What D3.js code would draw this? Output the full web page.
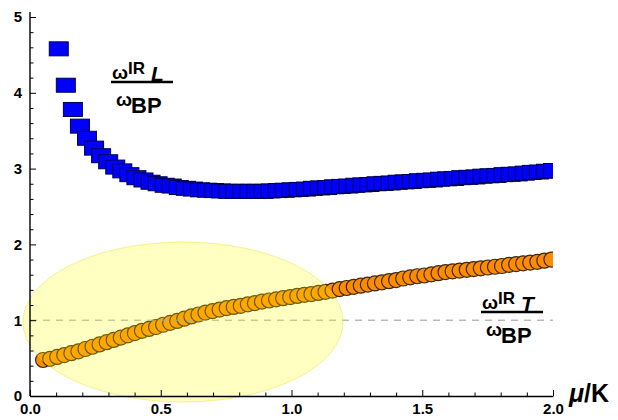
<!DOCTYPE html>
<html>
<head>
<meta charset="utf-8">
<script src="https://cdn.jsdelivr.net/npm/d3@7"></script>
<style>
html,body{margin:0;padding:0;background:#fff;}
svg{display:block;}
text{font-family:"Liberation Sans",Arial,sans-serif;font-weight:bold;fill:#000;}
</style>
</head>
<body>
<svg id="chart" width="618" height="420"></svg>
<script>
// ---- data ----
const xBlue = [0.11,0.137,0.164,0.191,0.218,0.245,0.272,0.299,0.326,0.353,0.38,0.407,0.434,0.461,0.488,0.515,0.542,0.569,0.596,0.623,0.65,0.677,0.704,0.731,0.758,0.785,0.812,0.839,0.866,0.893,0.92,0.947,0.974,1.001,1.028,1.055,1.082,1.109,1.136,1.163,1.19,1.217,1.244,1.271,1.298,1.325,1.352,1.379,1.406,1.433,1.46,1.487,1.514,1.541,1.568,1.595,1.622,1.649,1.676,1.703,1.73,1.757,1.784,1.811,1.838,1.865,1.892,1.919,1.946,1.973,2.0];
const yBlue = [4.58,4.10,3.78,3.56,3.40,3.27,3.17,3.09,3.02,2.97,2.92,2.88,2.85,2.82,2.80,2.78,2.77,2.75,2.74,2.73,2.72,2.715,2.71,2.705,2.70,2.70,2.70,2.70,2.70,2.70,2.705,2.71,2.715,2.72,2.725,2.73,2.74,2.745,2.75,2.76,2.765,2.77,2.78,2.785,2.79,2.80,2.805,2.81,2.82,2.825,2.83,2.84,2.845,2.85,2.86,2.865,2.87,2.88,2.885,2.89,2.90,2.905,2.91,2.92,2.925,2.93,2.94,2.95,2.955,2.965,2.975];
const xOrange = [0.05,0.077,0.104,0.131,0.158,0.185,0.212,0.239,0.266,0.293,0.32,0.347,0.374,0.401,0.428,0.455,0.482,0.509,0.536,0.563,0.59,0.617,0.644,0.671,0.698,0.725,0.752,0.779,0.806,0.833,0.86,0.887,0.914,0.941,0.968,0.995,1.022,1.049,1.076,1.103,1.13,1.157,1.184,1.211,1.238,1.265,1.292,1.319,1.346,1.373,1.4,1.427,1.454,1.481,1.508,1.535,1.562,1.589,1.616,1.643,1.67,1.697,1.724,1.751,1.778,1.805,1.832,1.859,1.886,1.913,1.94,1.967,1.994];
const yOrange = [0.475,0.49,0.515,0.54,0.565,0.59,0.62,0.65,0.68,0.71,0.74,0.77,0.80,0.83,0.86,0.885,0.91,0.94,0.965,0.99,1.02,1.05,1.075,1.10,1.12,1.14,1.16,1.175,1.19,1.21,1.225,1.245,1.26,1.275,1.29,1.305,1.32,1.335,1.345,1.36,1.375,1.39,1.41,1.425,1.44,1.455,1.47,1.485,1.50,1.515,1.53,1.55,1.565,1.58,1.59,1.605,1.62,1.635,1.645,1.655,1.665,1.675,1.685,1.695,1.705,1.715,1.73,1.74,1.75,1.76,1.77,1.785,1.80];
const xMajorTicks = [0,0.5,1,1.5,2];
const xTickLabels = ["0.0","0.5","1.0","1.5","2.0"];
const yMajorTicks = [0,1,2,3,4,5];
const yTickLabels = ["0","1","2","3","4","5"];
const refLevel = 1;
const highlight = {cx:0.585, cy:0.976, rx:0.612, ry:1.055};

// ---- scales ----
const W = 618, H = 420;
const x = d3.scaleLinear().domain([0,2]).range([30,553]);
const y = d3.scaleLinear().domain([0,5]).range([396,17]);
const svg = d3.select("#chart");

svg.append("defs").append("clipPath").attr("id","plotclip")
  .append("rect").attr("x",0).attr("y",0).attr("width",x(2)).attr("height",H);

const plot = svg.append("g").attr("clip-path","url(#plotclip)");

// dashed reference line
svg.append("line")
  .attr("x1",x(0)).attr("x2",x(2)).attr("y1",y(refLevel)).attr("y2",y(refLevel))
  .attr("stroke","#999").attr("stroke-width",1).attr("stroke-dasharray","7,6");

// blue squares
const bw = 19, bh = 14;
plot.append("g").selectAll("rect").data(d3.zip(xBlue,yBlue)).join("rect")
  .attr("x",d=>x(d[0])-bw/2).attr("y",d=>y(d[1])-bh/2)
  .attr("width",bw).attr("height",bh)
  .attr("fill","#0000ff").attr("stroke","#00004d").attr("stroke-width",1);

// orange circles
plot.append("g").selectAll("circle").data(d3.zip(xOrange,yOrange)).join("circle")
  .attr("cx",d=>x(d[0])).attr("cy",d=>y(d[1])).attr("r",7.5)
  .attr("fill","#ff8c00").attr("stroke","#3a2a10").attr("stroke-width",1.2);

// highlight ellipse
svg.append("ellipse")
  .attr("cx",x(highlight.cx)).attr("cy",y(highlight.cy))
  .attr("rx",x(highlight.rx)-x(0)).attr("ry",y(0)-y(highlight.ry))
  .attr("fill","rgba(255,255,0,0.24)").attr("stroke","rgba(235,225,60,0.5)").attr("stroke-width",1);

// axes
const xMinor = d3.range(0,2.0001,0.1).filter(v=>Math.abs(v*2-Math.round(v*2))>1e-6);
const yMinor = d3.range(0,5.0001,0.2).filter(v=>Math.abs(v-Math.round(v))>1e-6);

const gx = svg.append("g").attr("transform",`translate(0,${y(0)})`)
  .call(d3.axisBottom(x).tickValues(xMajorTicks).tickFormat((d,i)=>xTickLabels[i])
    .tickSizeInner(-6).tickSizeOuter(0).tickPadding(7));
svg.append("g").attr("transform",`translate(0,${y(0)})`)
  .call(d3.axisBottom(x).tickValues(xMinor).tickFormat("").tickSizeInner(-3.5).tickSizeOuter(0))
  .select(".domain").remove();

const gy = svg.append("g").attr("transform",`translate(${x(0)},0)`)
  .call(d3.axisLeft(y).tickValues(yMajorTicks).tickFormat((d,i)=>yTickLabels[i])
    .tickSizeInner(-6).tickSizeOuter(0).tickPadding(8));
svg.append("g").attr("transform",`translate(${x(0)},0)`)
  .call(d3.axisLeft(y).tickValues(yMinor).tickFormat("").tickSizeInner(-3.5).tickSizeOuter(0))
  .select(".domain").remove();

svg.selectAll(".domain").attr("stroke","#000").attr("stroke-width",1.4);
svg.selectAll(".tick line").attr("stroke","#000").attr("stroke-width",1);
[gx,gy].forEach(g=>g.selectAll("text").attr("font-size",15).attr("font-weight","bold")
  .attr("font-family","Liberation Sans, Arial, sans-serif").attr("fill","#000"));
gy.select(".domain").attr("d",`M0,${y(5)-5}V${y(0)}`);

// axis label
const ax = svg.append("text").attr("x",569).attr("y",402).attr("font-size",25);
ax.append("tspan").attr("font-style","italic").text("μ");
ax.append("tspan").text("/K");

// fraction labels
function fracLabel(x0, yBar, sub){
  svg.append("text").attr("x",x0+1).attr("y",yBar-3).attr("font-size",19).text("ω");
  svg.append("text").attr("x",x0+17).attr("y",yBar-8).attr("font-size",17).text("IR");
  svg.append("text").attr("x",x0+40).attr("y",yBar-1).attr("font-size",21).attr("font-style","italic").text(sub);
  svg.append("line").attr("x1",x0).attr("x2",x0+62).attr("y1",yBar).attr("y2",yBar)
    .attr("stroke","#000").attr("stroke-width",2.5);
  svg.append("text").attr("x",x0+5).attr("y",yBar+24).attr("font-size",19).text("ω");
  svg.append("text").attr("x",x0+20).attr("y",yBar+31).attr("font-size",22).text("BP");
}
fracLabel(111, 82, "L");
fracLabel(481, 312, "T");
</script>
</body>
</html>
